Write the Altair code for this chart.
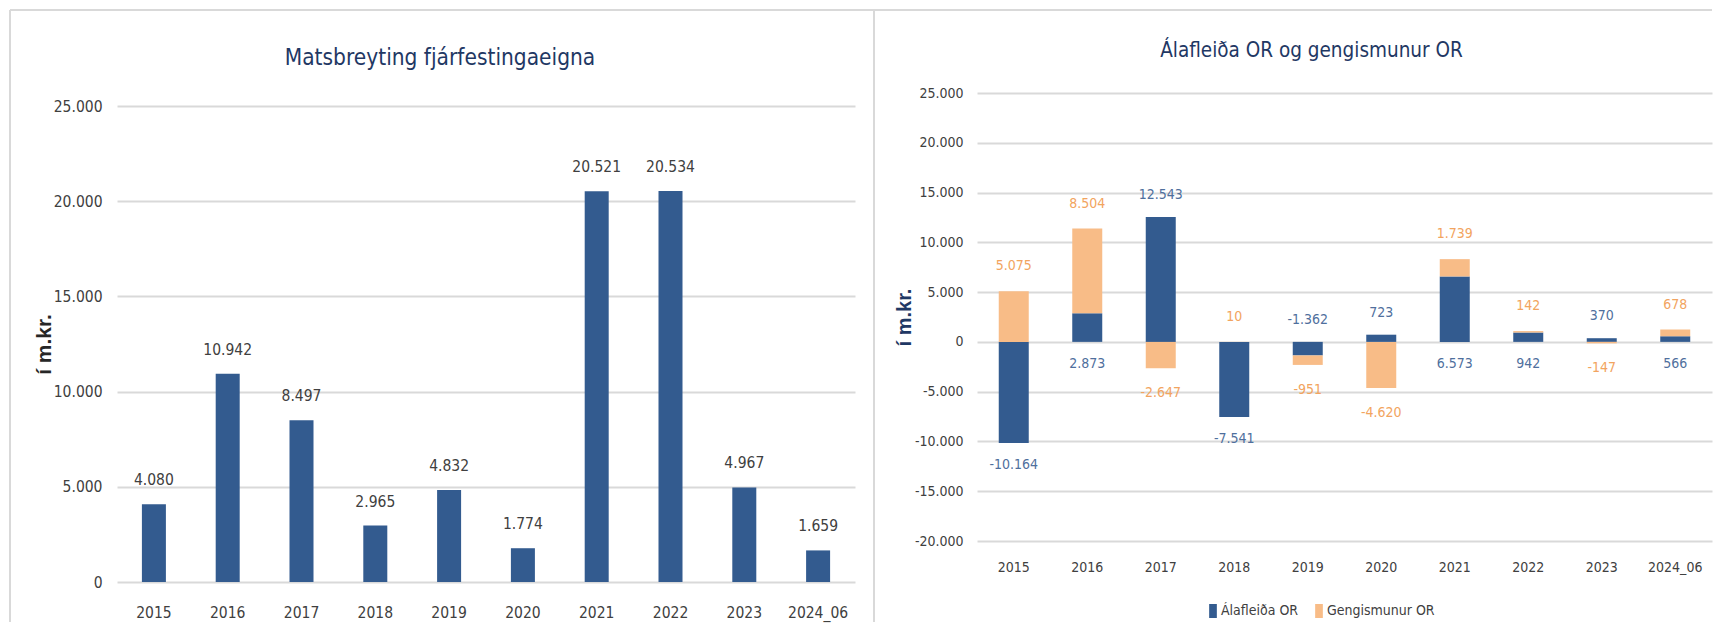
import altair as alt
import pandas as pd

# ---------------- data ----------------
years = ["2015", "2016", "2017", "2018", "2019", "2020", "2021", "2022", "2023", "2024_06"]
matsbreyting = [4080, 10942, 8497, 2965, 4832, 1774, 20521, 20534, 4967, 1659]
alafleida = [-10164, 2873, 12543, -7541, -1362, 723, 6573, 942, 370, 566]
gengismunur = [5075, 8504, -2647, 10, -951, -4620, 1739, 142, -147, 678]
series_names = ["Álafleiða OR", "Gengismunur OR"]
left_ticks = [0, 5000, 10000, 15000, 20000, 25000]
right_ticks = [-20000, -15000, -10000, -5000, 0, 5000, 10000, 15000, 20000, 25000]

left_title = "Matsbreyting fjárfestingaeigna"
right_title = "Álafleiða OR og gengismunur OR"
y_title = "í m.kr."

# ---------------- style ----------------
FONT = "DejaVu Sans Condensed, Liberation Sans Narrow, Liberation Sans, sans-serif"
TFONT = "Liberation Sans, Arial, sans-serif"
BLUE = "#335B8F"
ORANGE = "#F8BC87"
BLUE_TXT = "#4F6F9D"
ORANGE_TXT = "#F2A460"
NAVY = "#1F3864"
GRAY_TXT = "#404040"
GRID = "#D9D9D9"
BORDER = "#D9D9D9"
LFS = 15.5   # left chart text size
RFS = 14     # right chart text size

MINUS = "\u2212"


def fmt(expr):
    return f"replace(replace(format({expr}, ','), ',', '.'), '{MINUS}', '-')"


one = pd.DataFrame({"k": [0]})


def hrule(x1, x2, y):
    return alt.Chart(one).mark_rule(color=BORDER, strokeWidth=2).encode(
        x=alt.value(x1), x2=alt.value(x2), y=alt.value(y))


def vrule(x, y1, y2):
    return alt.Chart(one).mark_rule(color=BORDER, strokeWidth=2).encode(
        x=alt.value(x), y=alt.value(y1), y2=alt.value(y2))


# ---------------- left chart ----------------
LW, LH = 738, 489
left_df = pd.DataFrame({"year": years, "value": matsbreyting})

lx_axis = alt.Axis(labelAngle=0, ticks=False, tickSize=0, domain=False, grid=False,
                   labelPadding=30, labelBaseline="middle", labelFontSize=LFS,
                   labelColor=GRAY_TXT, labelFont=FONT)
lx_scale = alt.Scale(paddingInner=0, paddingOuter=0)
lscale = alt.Scale(domain=[0, 25000], range=[LH, 13], nice=False, zero=True)
ly_axis = alt.Axis(values=left_ticks, labelExpr=fmt("datum.value"), ticks=False, tickSize=0,
                   domain=False, grid=True, gridColor=GRID, gridWidth=2,
                   labelPadding=15, labelFontSize=LFS, labelColor=GRAY_TXT, labelFont=FONT,
                   titleFont=TFONT, titleFontSize=21, titleFontWeight="bold",
                   titleColor="#262626", titleAngle=270, titleX=-73, titleY=251,
                   titleBaseline="middle", titleAlign="center")


def lx():
    return alt.X("year:N", sort=years, title=None, scale=lx_scale, axis=lx_axis)


def ly(field):
    return alt.Y(f"{field}:Q", title=y_title, scale=lscale, axis=ly_axis)


left_bars = alt.Chart(left_df).mark_bar(size=24, color=BLUE).encode(x=lx(), y=ly("value"))
left_text = alt.Chart(left_df).transform_calculate(label=fmt("datum.value")).mark_text(
    dy=-24, baseline="middle", fontSize=LFS, color=GRAY_TXT, font=FONT
).encode(x=lx(), y=ly("value"), text="label:N")

left = alt.layer(
    hrule(-107, 757, -83), vrule(-107, -83, 529), vrule(757, -83, 529),
    left_bars, left_text
).properties(
    width=LW, height=LH,
    title=alt.TitleParams(left_title, font=FONT, fontSize=22.5, fontWeight="normal", color=NAVY,
                          anchor="middle", frame="group", dx=-46, dy=60, offset=0)
)

# ---------------- right chart ----------------
RW, RH = 735, 448
long_df = pd.DataFrame({
    "year": years * 2,
    "series": [series_names[0]] * len(years) + [series_names[1]] * len(years),
    "value": alafleida + gengismunur,
})
wide_df = pd.DataFrame({"year": years, "b": alafleida, "o": gengismunur})

rx_axis = alt.Axis(labelAngle=0, ticks=False, tickSize=0, domain=False, grid=False,
                   labelPadding=26, labelBaseline="middle", labelFontSize=RFS,
                   labelColor=GRAY_TXT, labelFont=FONT)
rx_scale = alt.Scale(paddingInner=0, paddingOuter=0)
rscale = alt.Scale(domain=[-20000, 25000], nice=False, zero=True)
ry_axis = alt.Axis(values=right_ticks, labelExpr=fmt("datum.value"), ticks=False, tickSize=0,
                   domain=False, grid=True, gridColor=GRID, gridWidth=2,
                   labelPadding=14, labelFontSize=RFS, labelColor=GRAY_TXT, labelFont=FONT,
                   titleFont=TFONT, titleFontSize=20, titleFontWeight="bold",
                   titleColor=NAVY, titleAngle=270, titleX=-73, titleY=224,
                   titleBaseline="middle", titleAlign="center")


def rx():
    return alt.X("year:N", sort=years, title=None, scale=rx_scale, axis=rx_axis)


def ry(field, stack=None):
    if stack:
        return alt.Y(f"{field}:Q", title=y_title, scale=rscale, axis=ry_axis, stack=stack)
    return alt.Y(f"{field}:Q", title=y_title, scale=rscale, axis=ry_axis)


right_bars = alt.Chart(long_df).transform_calculate(
    ord="indexof(['Álafleiða OR', 'Gengismunur OR'], datum.series)"
).mark_bar(size=30).encode(
    x=rx(), y=ry("value", "zero"),
    color=alt.Color("series:N", scale=alt.Scale(domain=series_names, range=[BLUE, ORANGE]),
                    legend=alt.Legend(title=None, orient="none", legendX=1089, legendY=511,
                                      direction="horizontal", padding=0,
                                      symbolType="M-0.55,-1H0.55V1H-0.55Z", symbolSize=196,
                                      symbolStrokeWidth=0, labelFontSize=RFS, labelFont=FONT,
                                      labelColor=GRAY_TXT, labelOffset=1, columnPadding=13)),
    order=alt.Order("ord:Q"),
)

txt_base = alt.Chart(wide_df).transform_calculate(
    b_label=fmt("datum.b"),
    o_label=fmt("datum.o"),
    o_end="datum.o >= 0 ? datum.o + max(datum.b, 0) : datum.o + min(datum.b, 0)",
    b_anchor="((datum.b >= 0) == (datum.o >= 0)) ? 0 : datum.b",
    b_up="((datum.b >= 0) == (datum.o >= 0)) ? (datum.b < 0) : (datum.b >= 0)",
)


def label_layer(filt, field, label, dy, color):
    return txt_base.transform_filter(filt).mark_text(
        dy=dy, baseline="middle", fontSize=RFS, color=color, font=FONT
    ).encode(x=rx(), y=ry(field), text=f"{label}:N")


right = alt.layer(
    hrule(-103, 735, -83), right_bars,
    label_layer("datum.o >= 0", "o_end", "o_label", -25, ORANGE_TXT),
    label_layer("datum.o < 0", "o_end", "o_label", 25, ORANGE_TXT),
    label_layer("datum.b_up", "b_anchor", "b_label", -22, BLUE_TXT),
    label_layer("!datum.b_up", "b_anchor", "b_label", 22, BLUE_TXT),
).properties(
    width=RW, height=RH,
    title=alt.TitleParams(right_title, font=FONT, fontSize=20.5, fontWeight="normal", color=NAVY,
                          anchor="middle", frame="group", dx=-33, dy=52, offset=0)
)

chart = alt.hconcat(left, right, spacing=122, bounds="flush").properties(
    padding={"left": 1, "top": 1, "right": 0, "bottom": 0}
).configure(font=FONT).configure_view(stroke=None)

chart.save("out.html", embed_options={"renderer": "svg", "actions": False})
